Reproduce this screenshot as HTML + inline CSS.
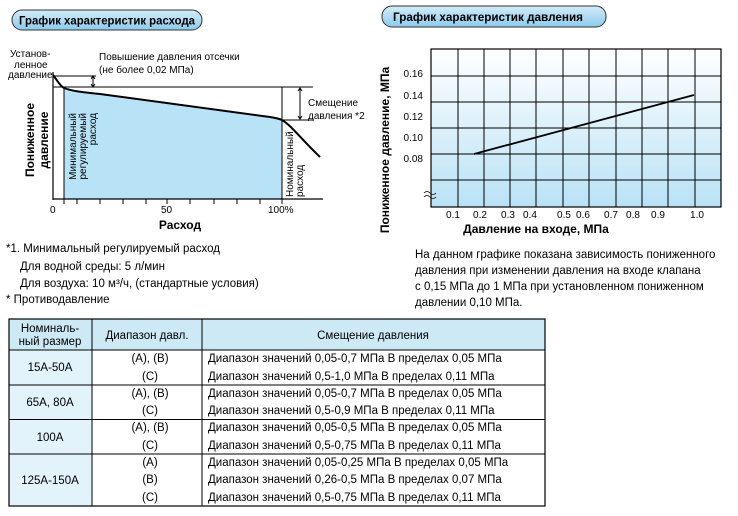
<!DOCTYPE html>
<html><head><meta charset="utf-8"><style>
body{margin:0;background:#fff;width:738px;height:511px;overflow:hidden;font-family:"Liberation Sans",sans-serif;}
svg text{font-family:"Liberation Sans",sans-serif;}
</style></head><body>
<svg width="738" height="511" xmlns="http://www.w3.org/2000/svg">
<defs>
<linearGradient id="pill" x1="0" y1="0" x2="0" y2="1"><stop offset="0" stop-color="#d4ecf8"/><stop offset="1" stop-color="#8ccbee"/></linearGradient>
<linearGradient id="grid" x1="0" y1="0" x2="0" y2="1"><stop offset="0" stop-color="#ffffff"/><stop offset="1" stop-color="#b9e2f6"/></linearGradient>
</defs>
<rect x="12" y="10" width="190" height="20" rx="10" fill="url(#pill)" stroke="#333" stroke-width="1"/>
<text x="19" y="24.5" font-size="11.6" font-weight="bold" textLength="176" lengthAdjust="spacingAndGlyphs">График характеристик расхода</text>
<rect x="382" y="6" width="224" height="21" rx="10" fill="url(#pill)" stroke="#333" stroke-width="1"/>
<text x="393" y="21" font-size="11.6" font-weight="bold" textLength="190" lengthAdjust="spacingAndGlyphs">График характеристик давления</text>

<path d="M64,88 C72,91 80,92 100,94 L270,117 C276,118 280,119 282,120 L282,199 L64,199 Z" fill="#b8e2f6"/>
<line x1="53" y1="72" x2="53" y2="200" stroke="#000" stroke-width="1.2"/>
<line x1="53" y1="199" x2="323" y2="199" stroke="#000" stroke-width="1.2"/>
<g stroke="#000" stroke-width="1">
<line x1="64" y1="87" x2="64" y2="204"/><line x1="77" y1="199" x2="77" y2="204"/><line x1="100" y1="199" x2="100" y2="204"/><line x1="123" y1="199" x2="123" y2="204"/><line x1="146" y1="199" x2="146" y2="204"/><line x1="167" y1="199" x2="167" y2="204"/><line x1="190" y1="199" x2="190" y2="204"/><line x1="214" y1="199" x2="214" y2="204"/><line x1="237" y1="199" x2="237" y2="204"/><line x1="260" y1="199" x2="260" y2="204"/><line x1="282" y1="87" x2="282" y2="204"/>
<line x1="53" y1="87" x2="313" y2="87"/>
<line x1="53" y1="76" x2="96" y2="76"/>
<line x1="93" y1="77" x2="93" y2="86"/>
<line x1="300" y1="88" x2="300" y2="119"/>
<line x1="282" y1="120" x2="313" y2="120"/>
</g>
<path d="M91,79 L93,76 L95,79 M91,84 L93,87 L95,84" fill="none" stroke="#000"/>
<path d="M298,91 L300,88 L302,91 M298,116 L300,119 L302,116" fill="none" stroke="#000"/>
<path d="M53,75 C57,80 60,86 64,88 C72,91 80,92 100,94 L270,117 C276,118 280,119 282,120 C292,126 300,138 320,157" fill="none" stroke="#000" stroke-width="2"/>
<g font-size="10">
<text x="10" y="57">Установ-</text><text x="14" y="68">ленное</text><text x="8" y="78">давление</text>
<text x="99" y="60">Повышение давления отсечки</text><text x="99" y="73">(не более 0,02 МПа)</text>
<text x="308" y="106">Смещение</text><text x="308" y="119">давления *2</text>
<text x="50" y="213">0</text><text x="161" y="213">50</text><text x="268" y="213">100%</text>
<text transform="translate(76,113) rotate(-90)" text-anchor="end">Минимальный</text>
<text transform="translate(86,113) rotate(-90)" text-anchor="end">регулируемый</text>
<text transform="translate(96,113) rotate(-90)" text-anchor="end">расход</text>
<text transform="translate(293,197) rotate(-90)">Номинальный</text>
<text transform="translate(303,197) rotate(-90)">расход</text>
</g>
<text x="180" y="229" font-size="12" font-weight="bold" text-anchor="middle">Расход</text>
<text transform="translate(34,140) rotate(-90)" font-size="12" font-weight="bold" text-anchor="middle">Пониженное</text>
<text transform="translate(48,140) rotate(-90)" font-size="12" font-weight="bold" text-anchor="middle">давление</text>

<rect x="431" y="49" width="290" height="158" fill="url(#grid)" stroke="#000" stroke-width="1.2"/>
<g stroke="#000" stroke-width="1">
<line x1="458" y1="49" x2="458" y2="207"/><line x1="484" y1="49" x2="484" y2="207"/><line x1="510" y1="49" x2="510" y2="207"/><line x1="536" y1="49" x2="536" y2="207"/><line x1="563" y1="49" x2="563" y2="207"/><line x1="589" y1="49" x2="589" y2="207"/><line x1="616" y1="49" x2="616" y2="207"/><line x1="642" y1="49" x2="642" y2="207"/><line x1="668" y1="49" x2="668" y2="207"/><line x1="695" y1="49" x2="695" y2="207"/>
<line x1="431" y1="76" x2="721" y2="76"/><line x1="431" y1="102" x2="721" y2="102"/><line x1="431" y1="128" x2="721" y2="128"/><line x1="431" y1="154" x2="721" y2="154"/><line x1="431" y1="180" x2="721" y2="180"/>
</g>
<line x1="474" y1="154" x2="694" y2="95" stroke="#000" stroke-width="1.8"/>
<path d="M424,193 q3,-3 6,0 t6,0 M424,197 q3,-3 6,0 t6,0" fill="none" stroke="#000" stroke-width="0.8"/>
<g font-size="10" text-anchor="end">
<text x="423" y="77">0.16</text><text x="423" y="99">0.14</text><text x="423" y="120">0.12</text><text x="423" y="141">0.10</text><text x="423" y="162">0.08</text>
</g>
<g font-size="10" text-anchor="middle">
<text x="453" y="218">0.1</text><text x="480" y="218">0.2</text><text x="508" y="218">0.3</text><text x="530" y="218">0.4</text><text x="564" y="218">0.5</text><text x="583" y="218">0.6</text><text x="611" y="218">0.7</text><text x="633" y="218">0.8</text><text x="658" y="218">0.9</text><text x="697" y="218">1.0</text>
</g>
<text x="536" y="233" font-size="12" font-weight="bold" text-anchor="middle">Давление на входе, МПа</text>
<text transform="translate(389,150) rotate(-90)" font-size="12" font-weight="bold" text-anchor="middle">Пониженное давление, МПа</text>

<g font-size="11.5">
<text x="415" y="258">На данном графике показана зависимость пониженного</text>
<text x="415" y="274">давления при изменении давления на входе клапана</text>
<text x="415" y="290">с 0,15 МПа до 1 МПа при установленном пониженном</text>
<text x="415" y="306">давлении 0,10 МПа.</text>
</g>
<g font-size="11.5">
<text x="6" y="252">*1. Минимальный регулируемый расход</text>
<text x="20" y="270">Для водной среды: 5 л/мин</text>
<text x="20" y="287">Для воздуха: 10 м³/ч, (стандартные условия)</text>
<text x="6" y="303">* Противодавление</text>
</g>

<rect x="9" y="319" width="536" height="31" fill="#cde9f6"/>
<rect x="9" y="350" width="83" height="156" fill="#e3f3fb"/>
<rect x="9" y="319" width="536" height="187" fill="none" stroke="#000" stroke-width="1.2"/>
<g stroke="#000" stroke-width="1">
<line x1="92" y1="319" x2="92" y2="506"/><line x1="202" y1="319" x2="202" y2="506"/>
<line x1="9" y1="350" x2="545" y2="350"/>
<line x1="9" y1="385" x2="545" y2="385"/><line x1="9" y1="419.5" x2="545" y2="419.5"/><line x1="9" y1="454" x2="545" y2="454"/>
</g>
<g font-size="11.5">
<text x="50" y="332" text-anchor="middle">Номиналь-</text><text x="50" y="345" text-anchor="middle">ный размер</text>
<text x="147" y="339" text-anchor="middle">Диапазон давл.</text>
<text x="373" y="339" text-anchor="middle">Смещение давления</text>
<text x="50" y="371" text-anchor="middle">15A-50A</text>
<text x="50" y="406" text-anchor="middle">65A, 80A</text>
<text x="50" y="441" text-anchor="middle">100A</text>
<text x="50" y="484" text-anchor="middle">125A-150A</text>
<g text-anchor="middle">
<text x="150" y="362">(A), (B)</text><text x="150" y="380">(C)</text>
<text x="150" y="397">(A), (B)</text><text x="150" y="414">(C)</text>
<text x="150" y="431">(A), (B)</text><text x="150" y="449">(C)</text>
<text x="150" y="466">(A)</text><text x="150" y="483">(B)</text><text x="150" y="501">(C)</text>
</g>
<text x="208" y="362">Диапазон значений 0,05-0,7 МПа В пределах 0,05 МПа</text>
<text x="208" y="380">Диапазон значений 0,5-1,0 МПа В пределах 0,11 МПа</text>
<text x="208" y="397">Диапазон значений 0,05-0,7 МПа В пределах 0,05 МПа</text>
<text x="208" y="414">Диапазон значений 0,5-0,9 МПа В пределах 0,11 МПа</text>
<text x="208" y="431">Диапазон значений 0,05-0,5 МПа В пределах 0,05 МПа</text>
<text x="208" y="449">Диапазон значений 0,5-0,75 МПа В пределах 0,11 МПа</text>
<text x="208" y="466">Диапазон значений 0,05-0,25 МПа В пределах 0,05 МПа</text>
<text x="208" y="483">Диапазон значений 0,26-0,5 МПа В пределах 0,07 МПа</text>
<text x="208" y="501">Диапазон значений 0,5-0,75 МПа В пределах 0,11 МПа</text>
</g>
</svg>
</body></html>
